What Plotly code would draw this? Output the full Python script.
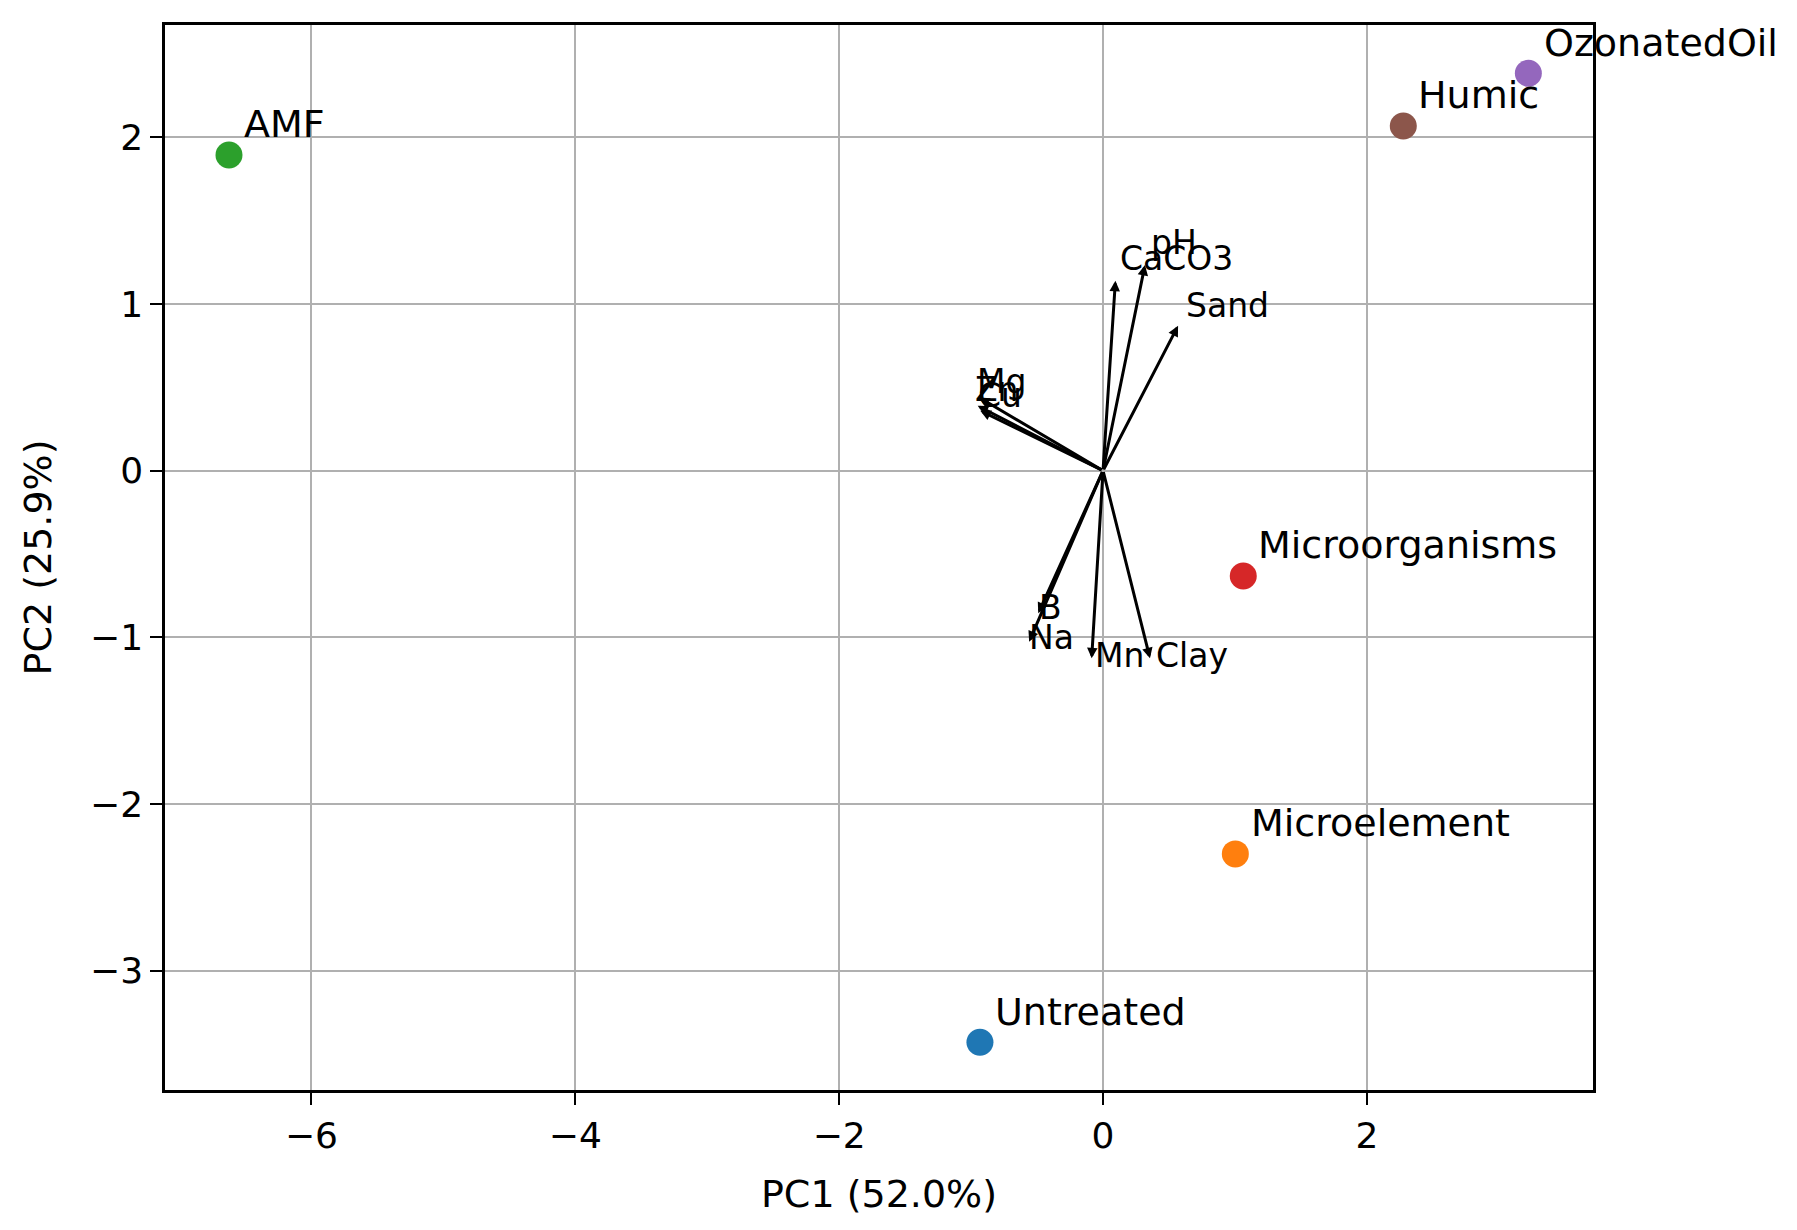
import plotly.graph_objects as go

# Sample scores (PC1, PC2)
samples = ["Untreated", "Microelement", "AMF", "Microorganisms", "OzonatedOil", "Humic"]
pc1 = [-0.933, 1.003, -6.625, 1.063, 3.224, 2.276]
pc2 = [-3.43, -2.30, 1.895, -0.632, 2.385, 2.069]
colors = ["#1f77b4", "#ff7f0e", "#2ca02c", "#d62728", "#9467bd", "#8c564b"]

# Variable loadings (arrow tips)
variables = ["CaCO3", "pH", "Sand", "Mg", "Zn", "Cu", "B", "Na", "Mn", "Clay"]
load1 = [0.094, 0.318, 0.569, -0.94, -0.95, -0.93, -0.491, -0.56, -0.086, 0.356]
load2 = [1.14, 1.235, 0.87, 0.44, 0.39, 0.36, -0.856, -1.026, -1.126, -1.126]

x_ticks = [-6, -4, -2, 0, 2]
y_ticks = [-3, -2, -1, 0, 1, 2]

FONT = "DejaVu Sans"

fig = go.Figure()

fig.add_trace(go.Scatter(
    x=pc1, y=pc2, mode="markers",
    marker=dict(size=27, color=colors, line=dict(width=0)),
    hoverinfo="text", text=samples, showlegend=False,
))

annotations = []
# arrows
for name, lx, ly in zip(variables, load1, load2):
    annotations.append(dict(
        x=lx, y=ly, ax=0, ay=0, xref="x", yref="y", axref="x", ayref="y",
        text="", showarrow=True, arrowhead=2, arrowsize=0.7, arrowwidth=3,
        arrowcolor="black", standoff=0, startstandoff=0,
    ))
# arrow labels
for name, lx, ly in zip(variables, load1, load2):
    annotations.append(dict(
        x=lx * 1.05, y=ly * 1.05, xref="x", yref="y", text=name, showarrow=False,
        xanchor="left", yanchor="bottom", xshift=2, yshift=-9,
        font=dict(family=FONT, size=33, color="black"),
    ))
# sample labels
for name, x, y in zip(samples, pc1, pc2):
    annotations.append(dict(
        x=x + 0.1, y=y + 0.1, xref="x", yref="y", text=name, showarrow=False,
        xanchor="left", yanchor="bottom", yshift=-10,
        font=dict(family=FONT, size=38, color="black"),
    ))

axis_common = dict(
    showgrid=True, gridcolor="#b0b0b0", gridwidth=2,
    zeroline=False, showline=True, linecolor="black", linewidth=2.5, mirror=True,
    ticks="outside", ticklen=12, tickwidth=2, tickcolor="black",
    tickfont=dict(family=FONT, size=36, color="black"),
)

fig.update_layout(
    width=1797, height=1230,
    margin=dict(l=165, r=204, t=25, b=140),
    paper_bgcolor="white", plot_bgcolor="white",
    annotations=annotations,
    xaxis=dict(range=[-7.11, 3.714], tickvals=x_ticks,
               ticktext=[str(v).replace("-", "\u2212") for v in x_ticks],
               title=dict(text="PC1 (52.0%)", font=dict(family=FONT, size=38, color="black"), standoff=26),
               **axis_common),
    yaxis=dict(range=[-3.717, 2.675], tickvals=y_ticks,
               ticktext=[str(v).replace("-", "\u2212") for v in y_ticks],
               title=dict(text="PC2 (25.9%)", font=dict(family=FONT, size=38, color="black"), standoff=27),
               **axis_common),
)

fig.write_html("out.html")
